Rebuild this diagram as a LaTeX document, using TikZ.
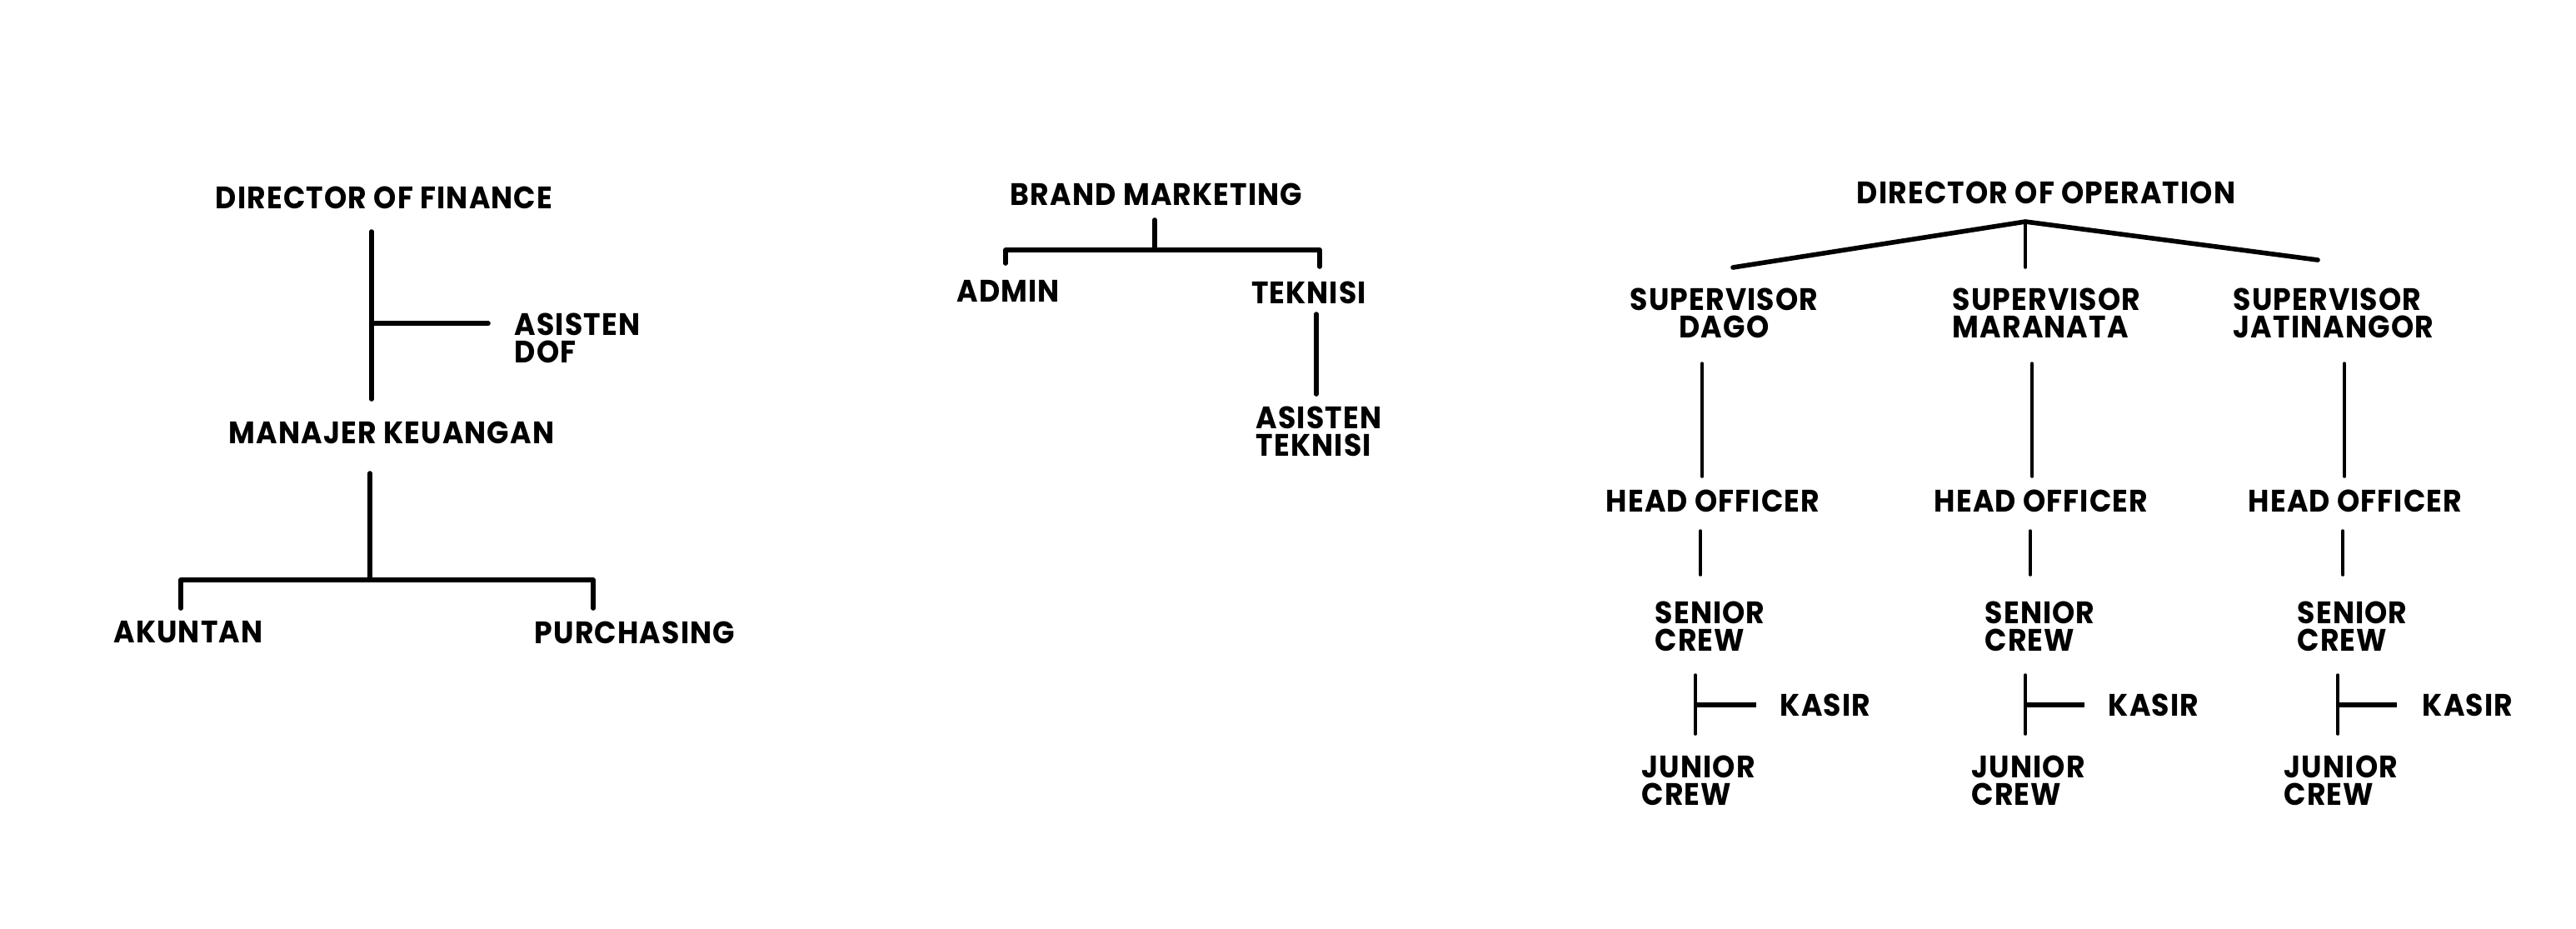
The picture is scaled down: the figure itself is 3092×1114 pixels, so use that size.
\documentclass[tikz,border=0pt]{standalone}
\usepackage{fontspec}
\newfontfamily\chartfont{Poppins}[FakeStretch=0.93, LetterSpace=3]
\usetikzlibrary{positioning}

\tikzset{
  lbl/.style={font=\chartfont\bfseries\fontsize{10.6}{9.4}\selectfont, inner sep=0pt},
  lbll/.style={lbl, anchor=west, align=left},
  link/.style={line width=1.6pt, line cap=round, line join=round},
  thinlink/.style={line width=1.0pt, line cap=round},
}

\begin{document}
\begin{tikzpicture}[x=0.01cm, y=-0.01cm]
  \useasboundingbox[fill=white] (0,0) rectangle (3092,1114);

  % finance
  \node[lbl] (dof) at (461,237) {DIRECTOR OF FINANCE};
  \node[lbll] (adof) at (617,406) {ASISTEN\\DOF};
  \node[lbl] (mk) at (470,519) {MANAJER KEUANGAN};
  \node[lbl] (akt) at (226,759) {AKUNTAN};
  \node[lbl] (pur) at (762,759) {PURCHASING};
  \coordinate (f1) at (446,278);
  \coordinate (f2) at (446,479);
  \coordinate (fa) at (446,388);
  \coordinate (fb) at (586,388);
  \coordinate (f3) at (444,568);
  \coordinate (f4) at (444,696);
  \coordinate (f5) at (217,696);
  \coordinate (f6) at (712,696);
  \coordinate (f7) at (217,730);
  \coordinate (f8) at (712,730);
  \draw[link] (f1) -- (f2);
  \draw[link] (fa) -- (fb);
  \draw[link] (f3) -- (f4);
  \draw[link] (f7) -- (f5) -- (f6) -- (f8);

  % brand marketing
  \node[lbl] (bm) at (1388,233) {BRAND MARKETING};
  \node[lbl] (adm) at (1210,349) {ADMIN};
  \node[lbl] (tek) at (1571,351) {TEKNISI};
  \node[lbll] (atek) at (1507,518) {ASISTEN\\TEKNISI};
  \coordinate (b1) at (1386,264);
  \coordinate (b2) at (1386,300);
  \coordinate (b3) at (1207,316);
  \coordinate (b4) at (1207,300);
  \coordinate (b5) at (1584,300);
  \coordinate (b6) at (1584,320);
  \coordinate (b7) at (1580,377);
  \coordinate (b8) at (1580,473);
  \draw[link] (b1) -- (b2);
  \draw[link] (b3) -- (b4) -- (b5) -- (b6);
  \draw[link] (b7) -- (b8);

  % operation
  \node[lbl] (doo) at (2456,231) {DIRECTOR OF OPERATION};
  \coordinate (o0) at (2431,266);
  \coordinate (ol) at (2080,321);
  \coordinate (or) at (2782,312);
  \coordinate (om) at (2431,321);
  \draw[link] (ol) -- (o0) -- (or);
  \draw[thinlink] (o0) -- (om);

  % dago
  \node[lbll, align=center] (sdago) at (1956,376) {SUPERVISOR\\DAGO};
  \node[lbl] (hodago) at (2056,601) {HEAD OFFICER};
  \node[lbll] (scdago) at (1986,752) {SENIOR\\CREW};
  \node[lbll] (kdago) at (2136,846) {KASIR};
  \node[lbll] (jcdago) at (1970,937) {JUNIOR\\CREW};
  \coordinate (d1) at (2043,436);
  \coordinate (d2) at (2043,572);
  \coordinate (d3) at (2041,637);
  \coordinate (d4) at (2041,690);
  \coordinate (d5) at (2035,810);
  \coordinate (d6) at (2035,881);
  \coordinate (d7) at (2035,846);
  \coordinate (d8) at (2108,846);
  \draw[thinlink] (d1) -- (d2);
  \draw[thinlink] (d3) -- (d4);
  \draw[thinlink] (d5) -- (d6);
  \draw[link, line cap=butt] (d7) -- (d8);

  % maranata
  \node[lbll] (smar) at (2343,376) {SUPERVISOR\\MARANATA};
  \node[lbl] (homar) at (2450,601) {HEAD OFFICER};
  \node[lbll] (scmar) at (2382,752) {SENIOR\\CREW};
  \node[lbll] (kmar) at (2530,846) {KASIR};
  \node[lbll] (jcmar) at (2366,937) {JUNIOR\\CREW};
  \coordinate (m1) at (2439,436);
  \coordinate (m2) at (2439,572);
  \coordinate (m3) at (2437,637);
  \coordinate (m4) at (2437,690);
  \coordinate (m5) at (2431,810);
  \coordinate (m6) at (2431,881);
  \coordinate (m7) at (2431,846);
  \coordinate (m8) at (2502,846);
  \draw[thinlink] (m1) -- (m2);
  \draw[thinlink] (m3) -- (m4);
  \draw[thinlink] (m5) -- (m6);
  \draw[link, line cap=butt] (m7) -- (m8);

  % jatinangor
  \node[lbll] (sjat) at (2680,376) {SUPERVISOR\\JATINANGOR};
  \node[lbl] (hojat) at (2827,601) {HEAD OFFICER};
  \node[lbll] (scjat) at (2757,752) {SENIOR\\CREW};
  \node[lbll] (kjat) at (2907,846) {KASIR};
  \node[lbll] (jcjat) at (2741,937) {JUNIOR\\CREW};
  \coordinate (j1) at (2814,436);
  \coordinate (j2) at (2814,572);
  \coordinate (j3) at (2812,637);
  \coordinate (j4) at (2812,690);
  \coordinate (j5) at (2806,810);
  \coordinate (j6) at (2806,881);
  \coordinate (j7) at (2806,846);
  \coordinate (j8) at (2877,846);
  \draw[thinlink] (j1) -- (j2);
  \draw[thinlink] (j3) -- (j4);
  \draw[thinlink] (j5) -- (j6);
  \draw[link, line cap=butt] (j7) -- (j8);
\end{tikzpicture}
\end{document}
